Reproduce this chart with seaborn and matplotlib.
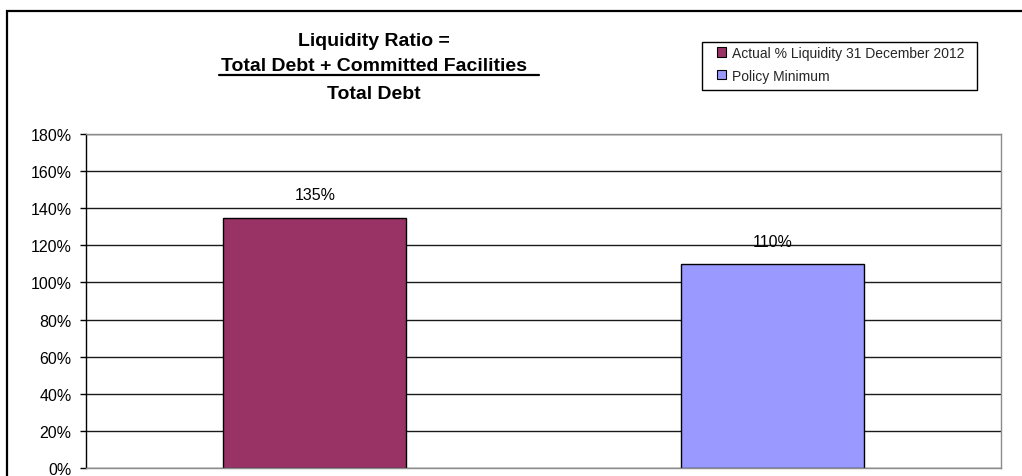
import matplotlib
matplotlib.use("Agg")
import matplotlib.pyplot as plt
from matplotlib.patches import Rectangle, Patch
from matplotlib.lines import Line2D
from matplotlib.ticker import PercentFormatter, MultipleLocator
import pandas as pd
import seaborn as sns

# Liquidity ratio data
series = ["Actual % Liquidity 31 December 2012", "Policy Minimum"]
ratio = [1.35, 1.10]
colors = ["#993366", "#9999FF"]
title_lines = ["Liquidity Ratio =", "Total Debt + Committed Facilities", "Total Debt"]

df = pd.DataFrame({"series": series, "ratio": ratio})

sns.set_style("white")
plt.rcParams["font.family"] = ["Liberation Sans", "DejaVu Sans"]

W, H = 1022, 477
fig = plt.figure(figsize=(W / 100, H / 100), dpi=100)


def fx(px):
    return px / W


def fy(py):
    return 1 - py / H


ax = fig.add_axes([fx(86), fy(469), fx(1001) - fx(86), (469 - 135) / H])

sns.barplot(data=df, x="series", y="ratio", hue="series", palette=colors,
            width=0.4, edgecolor="black", linewidth=1.0, saturation=1,
            legend=False, ax=ax)

ax.set_ylim(0, 1.8)
ax.yaxis.set_major_locator(MultipleLocator(0.2))
ax.yaxis.set_major_formatter(PercentFormatter(1.0, decimals=0))
ax.set_xlabel("")
ax.set_ylabel("")
ax.set_xticks([])
ax.set_axisbelow(True)
ax.grid(axis="y", color="#1a1a1a", linewidth=1.0)
ax.tick_params(axis="y", which="major", left=True, length=4, width=1,
               color="black", direction="out", pad=6.5, labelsize=11.5,
               labelcolor="black")
for side in ("top", "right", "bottom"):
    ax.spines[side].set_color("#8c8c8c")
    ax.spines[side].set_linewidth(1.0)
ax.spines["left"].set_color("black")
ax.spines["left"].set_linewidth(1.0)

# value labels above the bars
for cont, v in zip(ax.containers, ratio):
    ax.bar_label(cont, labels=[f"{v:.0%}"], padding=11, fontsize=11.5,
                 color="black")

# title block, second line underlined
baselines = [46, 71, 99]
texts = []
for line, yb in zip(title_lines, baselines):
    t = fig.text(fx(374), fy(yb), line, ha="center", va="baseline",
                 fontsize=14, fontweight="bold", color="black")
    texts.append(t)

fig.canvas.draw()
renderer = fig.canvas.get_renderer()
bb = texts[1].get_window_extent(renderer)
fig.add_artist(Line2D([fx(bb.x0 - 2), fx(bb.x1 + 12)], [fy(76), fy(76)],
                      transform=fig.transFigure, color="black", linewidth=1.6))

# legend
handles = [Patch(facecolor=c, edgecolor="black", linewidth=0.8) for c in colors]
fig.legend(handles, series, loc="upper left",
           bbox_to_anchor=(fx(717), fy(47)), frameon=False, fontsize=10,
           borderpad=0, borderaxespad=0, handlelength=0.65, handleheight=0.65,
           handletextpad=0.4, labelspacing=0.62)
fig.add_artist(Rectangle((fx(702), fy(91)), fx(977) - fx(702), (91 - 43) / H,
                         transform=fig.transFigure, fill=False,
                         edgecolor="black", linewidth=1.0))

# chart-area frame
fig.add_artist(Rectangle((fx(7), fy(520)), 1.2, (520 - 12) / H,
                         transform=fig.transFigure, fill=False,
                         edgecolor="black", linewidth=1.6, clip_on=False))

fig.savefig("out.png", dpi=100)
